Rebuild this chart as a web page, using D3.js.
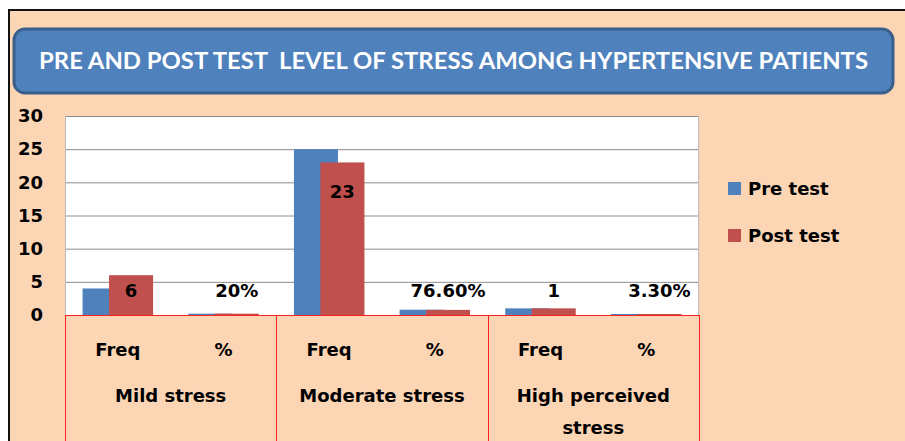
<!DOCTYPE html>
<html lang="en">
<head>
<meta charset="UTF-8">
<script src="https://cdnjs.cloudflare.com/ajax/libs/d3/7.8.5/d3.min.js"></script>
<title>Pre and post test level of stress</title>
<style>
    body { margin: 0; background: #ffffff; }
    svg { display: block; font-family: "DejaVu Sans", sans-serif; }
    .tick-label { font-size: 18px; font-weight: 700; fill: #000; }
    .bar-label { font-size: 18px; font-weight: 700; fill: #000; }
    .cat-label { font-size: 18px; font-weight: 700; fill: #000; }
    .legend-label { font-size: 18px; font-weight: 700; fill: #000; }
    .title { font-family: Lato, sans-serif; font-size: 23px; font-weight: 700; fill: #fff; white-space: pre; }
</style>
</head>
<body>
<script>
    // данные
    const groups = ['Mild stress', 'Moderate stress', 'High perceived\nstress'];
    const subLabels = ['Freq', '%'];
    const preTest = [4, 0.2, 25, 0.8, 1, 0.15];
    const postTest = [6, 0.2, 23, 0.77, 1, 0.15];
    const postLabels = ['6', '20%', '23', '76.60%', '1', '3.30%'];
    const yTicks = [0, 5, 10, 15, 20, 25, 30];
    const seriesNames = ['Pre test', 'Post test'];
    const seriesColors = ['#4F81BD', '#C0504D'];

    const title = 'PRE AND POST TEST  LEVEL OF STRESS AMONG HYPERTENSIVE PATIENTS';

    const width = 905;
    const height = 441;
    const plotLeft = 65;
    const plotRight = 699;
    const plotTop = 116;
    const plotBottom = 315;
    const gridColor = '#8c8c8c';
    const axisRed = '#ff1f1f';

    // категории: группа x подпись
    const categories = [];
    groups.forEach(function(g, gi) {
        subLabels.forEach(function(s) {
            categories.push({ key: gi + '|' + s, group: g, sub: s });
        });
    });

    const svg = d3.select('body').append('svg')
        .attr('width', width)
        .attr('height', height);

    // фон и рамка
    svg.append('rect')
        .attr('x', 9).attr('y', 10)
        .attr('width', width - 9 + 5).attr('height', height - 10 + 5)
        .attr('fill', '#FCD5B5')
        .attr('stroke', '#111')
        .attr('stroke-width', 2);

    // заголовок
    svg.append('rect')
        .attr('x', 14).attr('y', 29)
        .attr('width', 879).attr('height', 64)
        .attr('rx', 11).attr('ry', 11)
        .attr('fill', '#4F81BD')
        .attr('stroke', '#3A5F8B')
        .attr('stroke-width', 3);

    svg.append('text')
        .attr('class', 'title')
        .attr('x', 453.5)
        .attr('y', 61)
        .attr('dy', '0.35em')
        .attr('text-anchor', 'middle')
        .attr('textLength', 829)
        .attr('lengthAdjust', 'spacingAndGlyphs')
        .text(title);

    const x = d3.scaleBand()
        .domain(categories.map(function(d) { return d.key }))
        .range([plotLeft, plotRight])
        .padding(0);

    const y = d3.scaleLinear()
        .domain([0, 30])
        .range([plotBottom, plotTop]);

    const band = x.bandwidth();
    const barWidth = band * 0.417;
    const barShift = barWidth * 0.6;

    // область графика
    svg.append('rect')
        .attr('x', plotLeft).attr('y', plotTop)
        .attr('width', plotRight - plotLeft).attr('height', plotBottom - plotTop)
        .attr('fill', '#fff');

    // сетка
    svg.append('g')
        .selectAll('line')
        .data(yTicks.filter(function(t) { return t > 0 }))
        .enter()
        .append('line')
        .attr('x1', plotLeft).attr('x2', plotRight)
        .attr('y1', function(d) { return y(d) + 0.5 })
        .attr('y2', function(d) { return y(d) + 0.5 })
        .attr('stroke', gridColor);

    svg.append('line')
        .attr('x1', plotLeft + 0.5).attr('x2', plotLeft + 0.5)
        .attr('y1', plotTop).attr('y2', plotBottom)
        .attr('stroke', '#bbb');
    svg.append('line')
        .attr('x1', plotRight - 0.5).attr('x2', plotRight - 0.5)
        .attr('y1', plotTop).attr('y2', plotBottom)
        .attr('stroke', '#bbb');

    // ось Y
    const yAxis = d3.axisLeft(y)
        .tickValues(yTicks)
        .tickSize(0)
        .tickPadding(0);

    const yAxisG = svg.append('g')
        .attr('transform', 'translate(43,0)')
        .call(yAxis);
    yAxisG.select('.domain').remove();
    yAxisG.selectAll('text')
        .attr('class', 'tick-label')
        .attr('font-family', null)
        .attr('font-size', null);
    yAxisG.attr('font-family', null).attr('font-size', null);

    // бары
    const series = [preTest, postTest];
    series.forEach(function(values, si) {
        svg.append('g')
            .selectAll('rect')
            .data(values)
            .enter()
            .append('rect')
            .attr('x', function(d, i) {
                const c = x(categories[i].key) + band / 2;
                return c - barWidth / 2 + (si === 0 ? -barShift / 2 : barShift / 2);
            })
            .attr('y', function(d) { return y(d) })
            .attr('width', barWidth)
            .attr('height', function(d) { return Math.max(1, y(0) - y(d)) })
            .attr('fill', seriesColors[si]);
    });

    // подписи значений (Post test)
    svg.append('g')
        .selectAll('text')
        .data(postTest)
        .enter()
        .append('text')
        .attr('class', 'bar-label')
        .attr('x', function(d, i) { return x(categories[i].key) + band / 2 + barShift / 2 })
        .attr('y', function(d) { return Math.min(y(d) + 29, plotBottom - 24) })
        .attr('dy', '0.35em')
        .attr('text-anchor', 'middle')
        .text(function(d, i) { return postLabels[i] });

    // ось X: красная сетка категорий
    const axisG = svg.append('g');
    axisG.append('line')
        .attr('x1', plotLeft).attr('x2', plotRight)
        .attr('y1', plotBottom + 0.5).attr('y2', plotBottom + 0.5)
        .attr('stroke', axisRed);

    const groupEdges = [plotLeft].concat(groups.map(function(g, gi) {
        return x(gi + '|' + subLabels[subLabels.length - 1]) + band;
    }));
    axisG.selectAll('.sep')
        .data(groupEdges)
        .enter()
        .append('line')
        .attr('class', 'sep')
        .attr('x1', function(d) { return Math.round(d) + 0.5 })
        .attr('x2', function(d) { return Math.round(d) + 0.5 })
        .attr('y1', plotBottom).attr('y2', height)
        .attr('stroke', axisRed);

    axisG.selectAll('.sub')
        .data(categories)
        .enter()
        .append('text')
        .attr('class', 'cat-label')
        .attr('x', function(d) { return x(d.key) + band / 2 })
        .attr('y', 350)
        .attr('dy', '0.35em')
        .attr('text-anchor', 'middle')
        .text(function(d) { return d.sub });

    axisG.selectAll('.grp')
        .data(groups)
        .enter()
        .append('text')
        .attr('class', 'cat-label')
        .attr('x', function(d, gi) { return x(gi + '|' + subLabels[0]) + band })
        .attr('y', 396)
        .attr('text-anchor', 'middle')
        .each(function(d) {
            const t = d3.select(this);
            const xx = t.attr('x');
            d.split('\n').forEach(function(line, li) {
                t.append('tspan')
                    .attr('x', xx)
                    .attr('dy', li === 0 ? '0.35em' : '1.75em')
                    .text(line);
            });
        });

    // легенда
    const legend = svg.append('g')
        .selectAll('g')
        .data(seriesNames)
        .enter()
        .append('g')
        .attr('transform', function(d, i) { return 'translate(728,' + (182 + i * 47) + ')' });

    legend.append('rect')
        .attr('width', 13).attr('height', 13)
        .attr('fill', function(d, i) { return seriesColors[i] });

    legend.append('text')
        .attr('class', 'legend-label')
        .attr('x', 20)
        .attr('y', 6.5)
        .attr('dy', '0.35em')
        .text(function(d) { return d });
</script>
</body>
</html>
